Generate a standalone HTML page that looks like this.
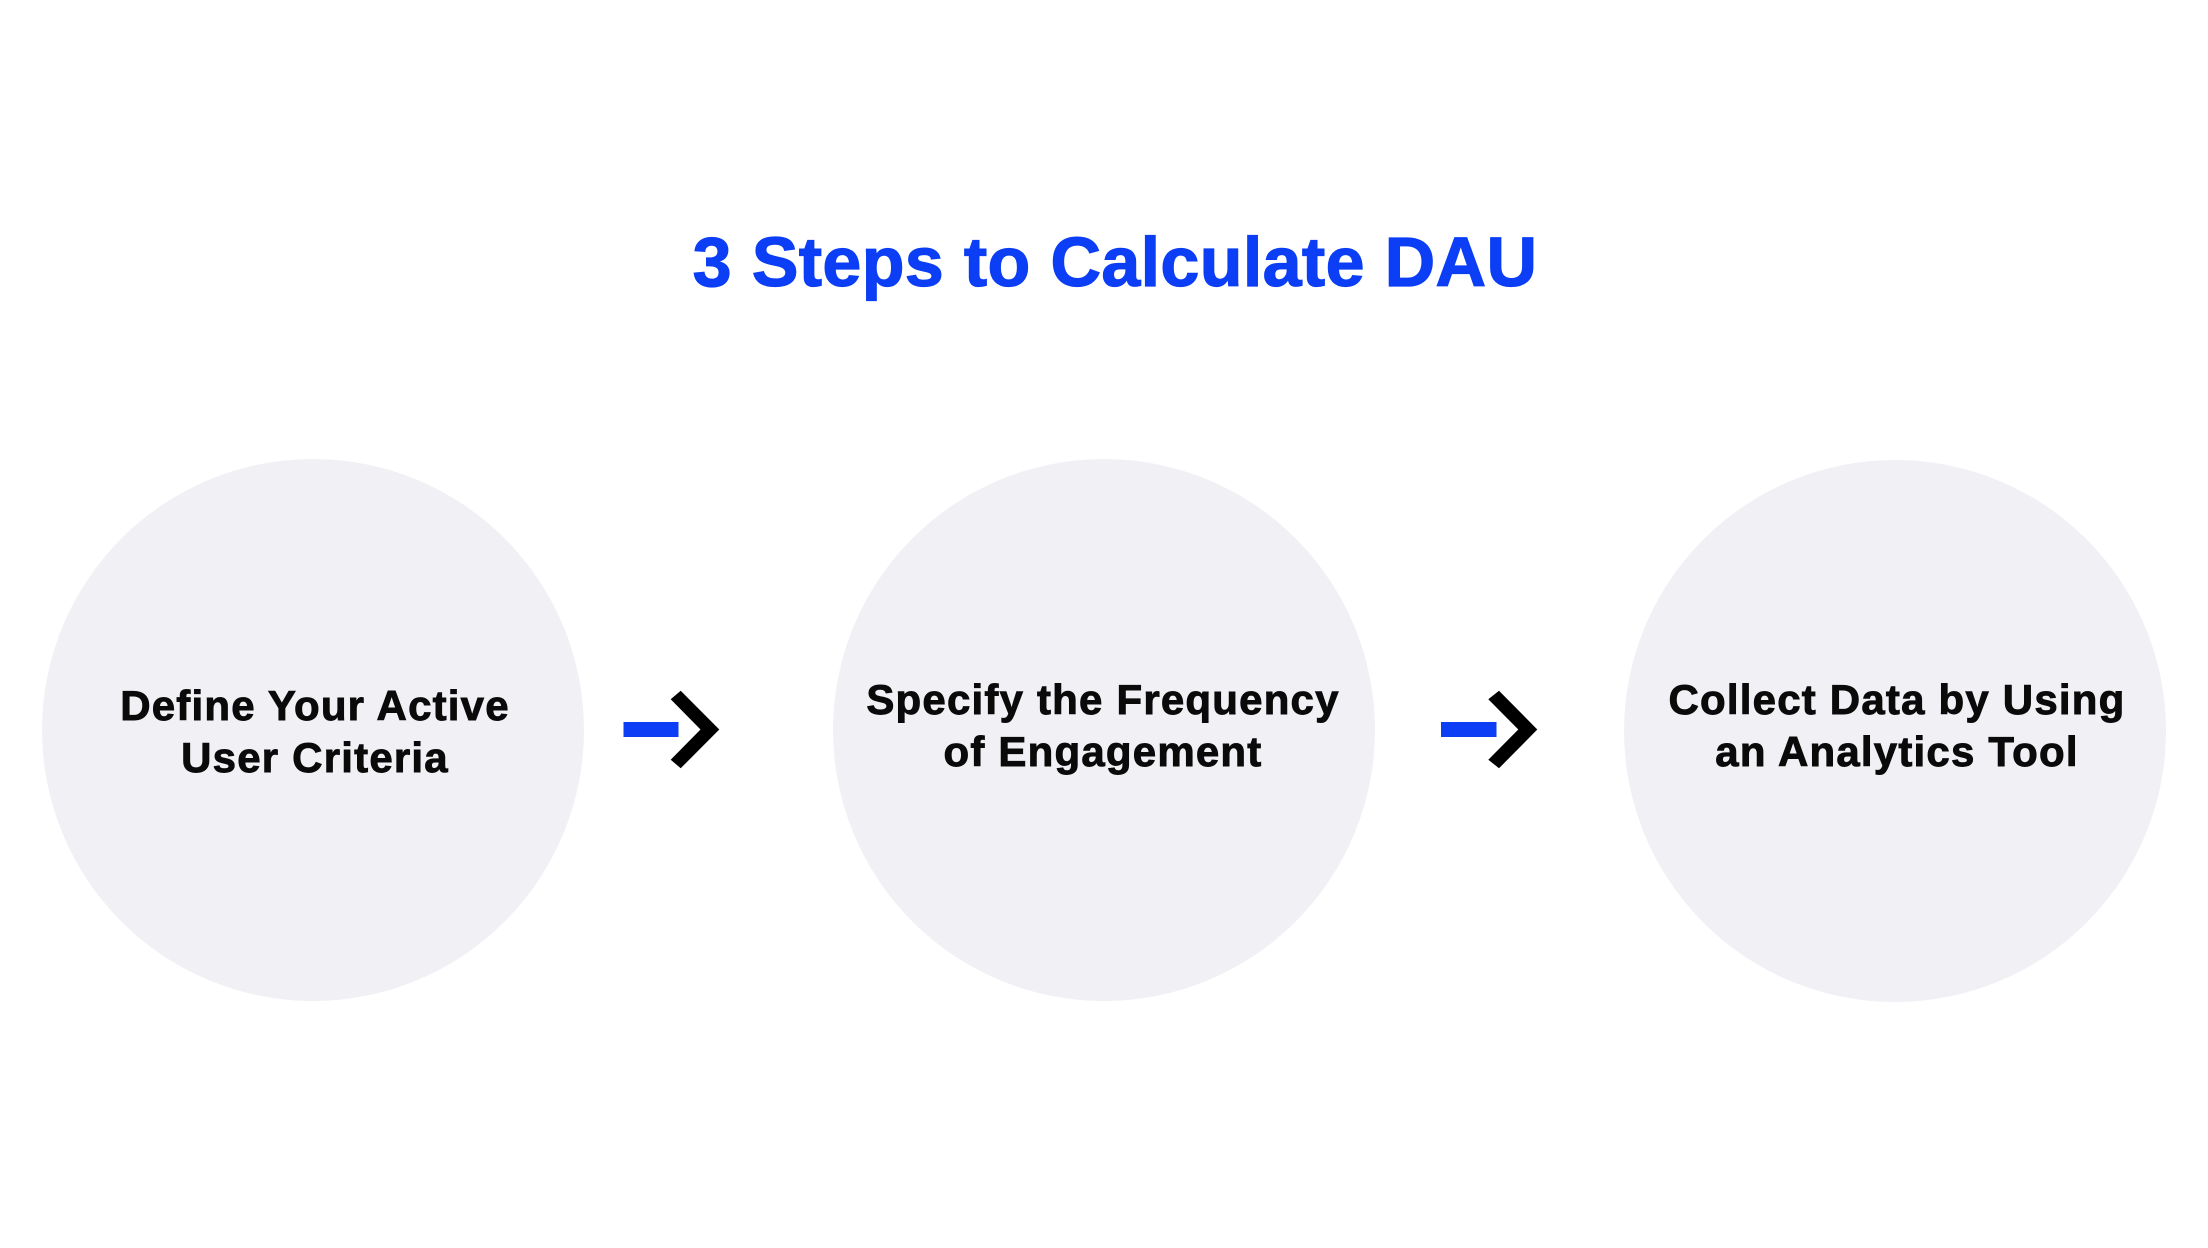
<!DOCTYPE html>
<html>
<head>
<meta charset="utf-8">
<style>
  html, body { margin: 0; padding: 0; background: #ffffff; }
  body { width: 2208px; height: 1248px; overflow: hidden; }
  svg { display: block; }
  .t { font-family: "Liberation Sans", Arial, sans-serif; font-weight: 700; }
  .d { fill: #0a0a0a; stroke: #0a0a0a; stroke-width: 0.9; }
  .b { fill: #0b3ef5; stroke: #0b3ef5; stroke-width: 1.2; }
</style>
</head>
<body>
<svg width="2208" height="1248" viewBox="0 0 2208 1248" xmlns="http://www.w3.org/2000/svg">
  <rect x="0" y="0" width="2208" height="1248" fill="#ffffff"/>

  <!-- Title -->
  <text class="t b" x="1115" y="286" text-anchor="middle" font-size="70" letter-spacing="0.35">3 Steps to Calculate DAU</text>

  <!-- Circles -->
  <circle cx="313" cy="730" r="271" fill="#f1f1f5"/>
  <circle cx="1104" cy="730" r="271" fill="#f1f1f5"/>
  <circle cx="1895" cy="731" r="271" fill="#f1f1f5"/>

  <!-- Circle 1 text -->
  <text class="t d" x="315" y="720" text-anchor="middle" font-size="42" letter-spacing="1.2">Define Your Active</text>
  <text class="t d" x="315" y="772" text-anchor="middle" font-size="42" letter-spacing="1.2">User Criteria</text>

  <!-- Circle 2 text -->
  <text class="t d" x="1103" y="714" text-anchor="middle" font-size="42" letter-spacing="1.2">Specify the Frequency</text>
  <text class="t d" x="1103" y="766" text-anchor="middle" font-size="42" letter-spacing="1.2">of Engagement</text>

  <!-- Circle 3 text -->
  <text class="t d" x="1897" y="714" text-anchor="middle" font-size="42" letter-spacing="1.2">Collect Data by Using</text>
  <text class="t d" x="1897" y="766" text-anchor="middle" font-size="42" letter-spacing="1.2">an Analytics Tool</text>

  <!-- Arrow 1 -->
  <rect x="623.5" y="722" width="55" height="15" fill="#0b3ef5"/>
  <polygon points="670.7,699.3 680.7,690.7 719.3,729.5 680.7,768.3 670.7,759.7 700.5,729.5" fill="#000000"/>

  <!-- Arrow 2 -->
  <rect x="1441" y="722" width="55.5" height="15" fill="#0b3ef5"/>
  <polygon points="1488.3,699.3 1499,690.7 1537.3,729.5 1499,768.3 1488.3,759.7 1518.3,729.5" fill="#000000"/>
</svg>
</body>
</html>
